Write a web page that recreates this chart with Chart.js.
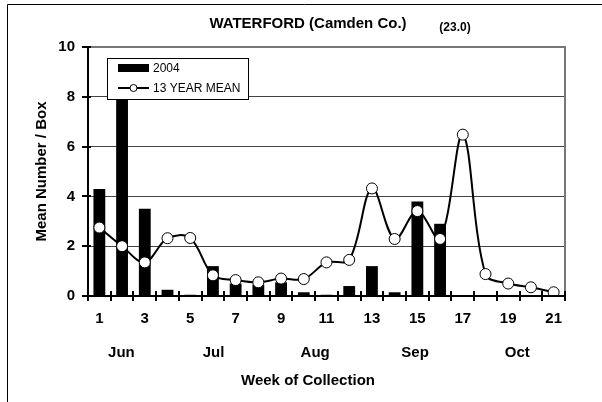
<!DOCTYPE html>
<html>
<head>
<meta charset="utf-8">
<script src="https://cdn.jsdelivr.net/npm/chart.js@4"></script>
<style>
  html, body { margin: 0; padding: 0; background: #fff; }
  #wrap { width: 602px; height: 402px; }
</style>
</head>
<body>
<div id="wrap"><canvas id="grafico"></canvas></div>
<script>
// Datos
var semanas = ["1","2","3","4","5","6","7","8","9","10","11","12","13","14","15","16","17","18","19","20","21"];
var valores2004 = [4.3, 8.6, 3.5, 0.25, 0.05, 1.2, 0.5, 0.45, 0.55, 0.15, 0.05, 0.4, 1.2, 0.15, 3.8, 2.9, 0, 0, 0, 0, 0];
var media13 = [2.75, 2.0, 1.35, 2.32, 2.33, 0.83, 0.64, 0.55, 0.7, 0.68, 1.35, 1.45, 4.32, 2.29, 3.41, 2.29, 6.48, 0.88, 0.5, 0.35, 0.15];
var meses = ["Jun", "Jul", "Aug", "Sep", "Oct"];
var posMeses = [0.97, 5.03, 9.5, 13.9, 18.4]; // indice de categoria (0 = semana 1)
var ticksY = [0, 2, 4, 6, 8, 10];

var fuente = "'Liberation Sans', Arial, sans-serif";

// Plugin para marco, titulos, meses, marcas de eje y leyenda
var extras = {
    id: "extras",
    afterDraw: function(chart) {
        var ctx = chart.ctx;
        var area = chart.chartArea;
        var x = chart.scales.x;
        var y = chart.scales.y;
        ctx.save();

        // marco exterior
        ctx.strokeStyle = "#000";
        ctx.lineWidth = 1;
        ctx.beginPath();
        ctx.moveTo(7.5, 402);
        ctx.lineTo(7.5, 4.5);
        ctx.lineTo(602, 4.5);
        ctx.stroke();

        // borde superior y derecho del area
        ctx.strokeStyle = "#777";
        ctx.lineWidth = 2;
        ctx.beginPath();
        ctx.moveTo(area.left, area.top);
        ctx.lineTo(area.right, area.top);
        ctx.lineTo(area.right, area.bottom);
        ctx.stroke();

        // ejes
        ctx.strokeStyle = "#000";
        ctx.lineWidth = 2;
        ctx.beginPath();
        ctx.moveTo(area.left, area.top - 1);
        ctx.lineTo(area.left, area.bottom);
        ctx.lineTo(area.right, area.bottom);
        ctx.stroke();

        // marcas eje y
        ctx.lineWidth = 2;
        ticksY.forEach(function(v) {
            var py = Math.round(y.getPixelForValue(v));
            ctx.beginPath();
            ctx.moveTo(area.left - 6, py);
            ctx.lineTo(area.left + 3, py);
            ctx.stroke();
        });

        // marcas eje x (entre categorias)
        var paso = x.getPixelForValue(1) - x.getPixelForValue(0);
        for (var i = 0; i <= semanas.length; i++) {
            var px = Math.round(x.getPixelForValue(0) - paso / 2 + i * paso);
            ctx.beginPath();
            ctx.moveTo(px, area.bottom - 5);
            ctx.lineTo(px, area.bottom + 5);
            ctx.stroke();
        }

        // titulo
        ctx.fillStyle = "#000";
        ctx.textAlign = "center";
        ctx.textBaseline = "middle";
        ctx.font = "bold 15px " + fuente;
        ctx.fillText("WATERFORD (Camden Co.)", 308, 24);
        ctx.font = "bold 12px " + fuente;
        ctx.fillText("(23.0)", 455, 28);

        // meses
        ctx.font = "bold 15px " + fuente;
        for (var m = 0; m < meses.length; m++) {
            ctx.fillText(meses[m], x.getPixelForValue(posMeses[m]), 353);
        }
        ctx.fillText("Week of Collection", 308, 381);

        // titulo eje y
        ctx.save();
        ctx.translate(42, (area.top + area.bottom) / 2);
        ctx.rotate(-Math.PI / 2);
        ctx.fillText("Mean Number / Box", 0, 0);
        ctx.restore();

        // leyenda
        ctx.fillStyle = "#fff";
        ctx.fillRect(107, 58, 141, 41);
        ctx.strokeStyle = "#000";
        ctx.lineWidth = 1;
        ctx.strokeRect(107.5, 58.5, 141, 41);
        ctx.fillStyle = "#000";
        ctx.fillRect(118, 64, 31, 8);
        ctx.lineWidth = 2;
        ctx.beginPath();
        ctx.moveTo(118, 88);
        ctx.lineTo(149, 88);
        ctx.stroke();
        ctx.beginPath();
        ctx.arc(133.5, 88, 3.5, 0, Math.PI * 2);
        ctx.fillStyle = "#fff";
        ctx.fill();
        ctx.lineWidth = 1;
        ctx.stroke();
        ctx.fillStyle = "#000";
        ctx.textAlign = "left";
        ctx.font = "12px " + fuente;
        ctx.fillText(chart.data.datasets[1].label, 153, 69);
        ctx.fillText(chart.data.datasets[0].label, 153, 89);

        ctx.restore();
    }
};

var ctx = document.getElementById("grafico").getContext("2d");

var config = {
    type: "bar",
    data: {
        labels: semanas,
        datasets: [
            {
                type: "line",
                label: "13 YEAR MEAN",
                data: media13,
                borderColor: "#000",
                borderWidth: 2,
                tension: 0.35,
                pointRadius: 5.5,
                pointBackgroundColor: "#fff",
                pointBorderColor: "#000",
                pointBorderWidth: 1,
                order: 1
            },
            {
                label: "2004",
                data: valores2004,
                backgroundColor: "#000",
                borderWidth: 0,
                barPercentage: 0.52,
                categoryPercentage: 1.0,
                order: 2
            }
        ]
    },
    options: {
        responsive: false,
        animation: false,
        devicePixelRatio: 1,
        layout: { padding: { left: 0, top: 47, right: 37, bottom: 0 } },
        plugins: {
            legend: { display: false },
            tooltip: { enabled: false }
        },
        scales: {
            x: {
                offset: true,
                grid: { display: false, drawTicks: false },
                border: { display: false },
                ticks: {
                    padding: 14,
                    color: "#000",
                    maxRotation: 0,
                    autoSkip: false,
                    font: { family: fuente, size: 15, weight: "bold" },
                    callback: function(val, i) { return i % 2 === 0 ? semanas[i] : ""; }
                },
                afterFit: function(s) { s.height = 106; }
            },
            y: {
                min: 0,
                max: 10,
                grid: { color: "#444", lineWidth: 1, drawTicks: false },
                border: { display: false },
                ticks: {
                    stepSize: 2,
                    padding: 13,
                    color: "#000",
                    font: { family: fuente, size: 15, weight: "bold" }
                },
                afterFit: function(s) { s.width = 88; }
            }
        }
    },
    plugins: [extras]
};

var canvas = document.getElementById("grafico");
canvas.width = 602;
canvas.height = 402;
new Chart(ctx, config);
</script>
</body>
</html>
